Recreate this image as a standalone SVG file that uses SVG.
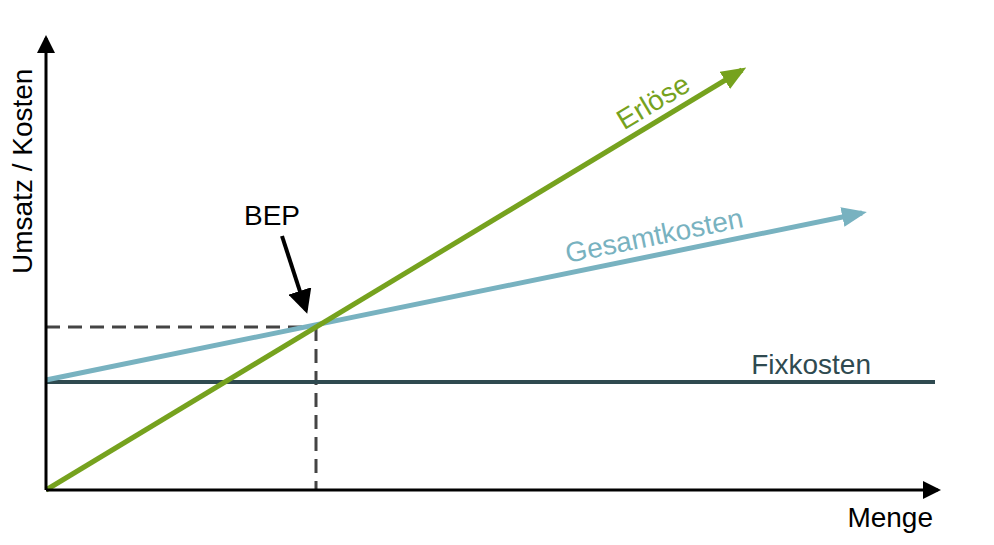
<svg xmlns="http://www.w3.org/2000/svg" width="994" height="545" viewBox="0 0 994 545">
<style>
text{font-family:"Liberation Sans",Arial,sans-serif;font-size:28px}
</style>
<defs>
<marker id="ak" markerWidth="6" markerHeight="6" refX="5" refY="3" orient="auto" markerUnits="strokeWidth"><path d="M0,0L6,3L0,6z" fill="#000"/></marker>
<marker id="ag" markerWidth="5" markerHeight="4" refX="4" refY="2" orient="auto" markerUnits="strokeWidth"><path d="M0,0L5,2L0,4z" fill="#76a21e"/></marker>
<marker id="ab" markerWidth="5" markerHeight="4" refX="4" refY="2" orient="auto" markerUnits="strokeWidth"><path d="M0,0L5,2L0,4z" fill="#78b2c0"/></marker>
</defs>
<rect width="994" height="545" fill="#fff"/>
<g id="connectors">
<line x1="46" y1="327" x2="316" y2="327" stroke="#444" stroke-width="3" stroke-dasharray="14,8"/>
<line x1="316" y1="327" x2="316" y2="490" stroke="#444" stroke-width="3" stroke-dasharray="14,8"/>
<line x1="46" y1="382" x2="935" y2="382" stroke="#2f4a50" stroke-width="4"/>
<line x1="46" y1="380" x2="862" y2="213" stroke="#78b2c0" stroke-width="5" marker-end="url(#ab)"/>
<line x1="46" y1="490" x2="742" y2="70" stroke="#76a21e" stroke-width="5" marker-end="url(#ag)"/>
<line x1="46" y1="490" x2="46" y2="38" stroke="#000" stroke-width="3" marker-end="url(#ak)"/>
<line x1="46" y1="490" x2="938" y2="490" stroke="#000" stroke-width="3" marker-end="url(#ak)"/>
<line x1="282" y1="236" x2="306" y2="310" stroke="#000" stroke-width="4" marker-end="url(#ak)"/>
</g>
<g id="labels">
<text x="32" y="274" transform="rotate(-90 32 274)" text-anchor="start">Umsatz / Kosten</text>
<text x="933" y="527" text-anchor="end">Menge</text>
<text x="272" y="225" text-anchor="middle">BEP</text>
<text x="871" y="374" text-anchor="end" fill="#2f4a50">Fixkosten</text>
<text x="656" y="245" fill="#78b2c0" text-anchor="middle" transform="rotate(-11.5 656 245)">Gesamtkosten</text>
<text x="658" y="110" fill="#76a21e" text-anchor="middle" transform="rotate(-31 658 110)">Erlöse</text>
</g>
</svg>
